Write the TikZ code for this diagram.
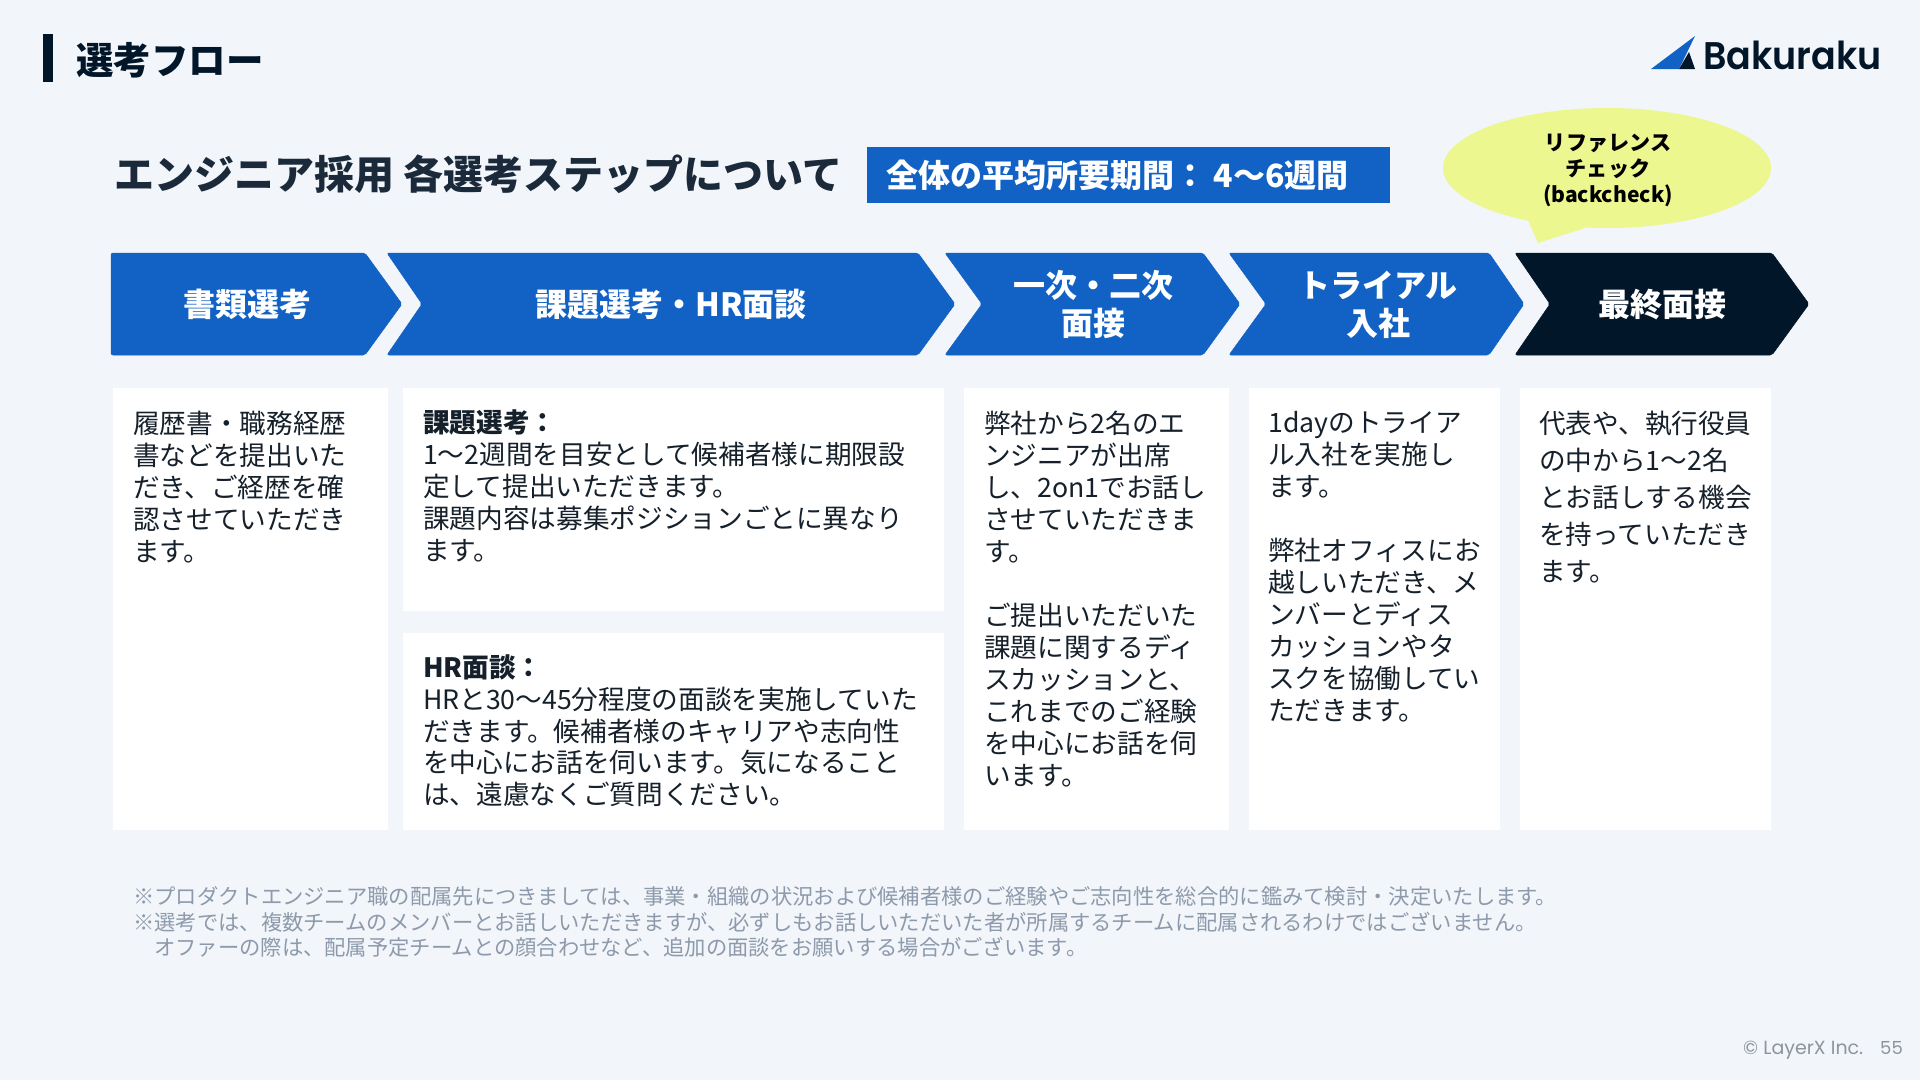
\documentclass[tikz,border=0pt]{standalone}
\usepackage{fontspec}
\setmainfont{Noto Sans CJK JP}
\newfontfamily\popfont{Poppins}
\newfontfamily\logofont{Poppins SemiBold}
\definecolor{bgc}{HTML}{F2F5FA}
\definecolor{blu}{HTML}{1162C4}
\definecolor{drk}{HTML}{021629}
\definecolor{ttl}{HTML}{1B2A3A}
\definecolor{bod}{HTML}{15202B}
\definecolor{yel}{HTML}{ECF78F}
\definecolor{foot}{HTML}{8D9AAB}
\definecolor{cprt}{HTML}{8E949C}
\tikzset{
  chev/.style={fill=#1,draw=#1,line width=0.5pt,rounded corners=2pt},
  card/.style={fill=white},
  bodytxt/.style={anchor=north west,inner sep=0pt,align=left,text=bod,font=\fontsize{26.65}{32}\selectfont},
  chevtxt/.style={inner sep=0pt,align=center,text=white,font=\fontsize{32}{38}\selectfont\bfseries},
  foottxt/.style={anchor=base west,inner sep=0pt,text=foot,font=\fontsize{21.3}{25}\selectfont},
}
\begin{document}
\begin{tikzpicture}[x=1pt,y=-1pt]
\useasboundingbox (0,0) rectangle (1920,1080);
\fill[bgc] (0,0) rectangle (1920,1080);
% header
\fill[drk] (43,34) rectangle (53,82);
\node[anchor=base west,inner sep=0pt,text=drk,font=\fontsize{37.5}{40}\selectfont\bfseries] (hdr) at (76,74) {選考フロー};
% logo
\fill[blu] (1651,69) -- (1695,36) -- (1679,69) -- cycle;
\fill[drk] (1679,69) -- (1689,52) -- (1695,69) -- cycle;
\node[anchor=base west,inner sep=0pt,text=drk,font=\fontsize{38.5}{40}\logofont\selectfont] (logo) at (1703,69) {\scalebox{0.947}[1]{Bakuraku}};
% title
\node[anchor=base west,inner sep=0pt,text=ttl,font=\fontsize{40}{44}\selectfont\bfseries] (title) at (114,189) {エンジニア採用 各選考ステップについて};
\fill[blu] (867,147) rectangle (1390,203);
\node[anchor=base west,inner sep=0pt,text=white,font=\fontsize{32}{36}\selectfont\bfseries] (avg) at (886,187) {全体の平均所要期間： 4〜6週間};
% bubble
\fill[yel] (1607,168) ellipse [x radius=164,y radius=60];
\fill[yel] (1528,220) -- (1538,243) -- (1585,228) -- cycle;
\node[inner sep=0pt,align=center,text=black,font=\fontsize{21.1}{26}\selectfont\bfseries] (bub) at (1608,170.5) {リファレンス\\チェック\\(backcheck)};
% chevrons
\draw[chev=blu] (111,253) -- (365,253) -- (402,304) -- (365,355) -- (111,355) -- cycle;
\draw[chev=blu] (387,253) -- (918,253) -- (955,304) -- (918,355) -- (387,355) -- (422,304) -- cycle;
\draw[chev=blu] (945,253) -- (1203,253) -- (1240,304) -- (1203,355) -- (945,355) -- (982,304) -- cycle;
\draw[chev=blu] (1229,253) -- (1489,253) -- (1524,304) -- (1489,355) -- (1229,355) -- (1266,304) -- cycle;
\draw[chev=drk] (1515,253) -- (1772,253) -- (1809,304) -- (1772,355) -- (1515,355) -- (1550,304) -- cycle;
\node[chevtxt] (c1) at (247,304.5) {書類選考};
\node[chevtxt] (c2) at (671,304.5) {課題選考・HR面談};
\node[chevtxt] (c3) at (1093,304.5) {一次・二次\\面接};
\node[chevtxt] (c4) at (1378,304.5) {トライアル\\入社};
\node[chevtxt] (c5) at (1662,304.5) {最終面接};
% cards
\fill[card] (113,388) rectangle (388,830);
\fill[card] (403,388) rectangle (944,611);
\fill[card] (403,633) rectangle (944,830);
\fill[card] (964,388) rectangle (1229,830);
\fill[card] (1249,388) rectangle (1500,830);
\fill[card] (1520,388) rectangle (1771,830);
% card texts
\node[bodytxt] (t1) at (133,410.5) {履歴書・職務経歴\\書などを提出いた\\だき、ご経歴を確\\認させていただき\\ます。};
\node[bodytxt] (t2) at (423,410) {\textbf{課題選考：}\\1〜2週間を目安として候補者様に期限設\\定して提出いただきます。\\課題内容は募集ポジションごとに異なり\\ます。};
\node[bodytxt,font=\fontsize{26.65}{31.7}\selectfont] (t2b) at (423,654.8) {\textbf{HR面談：}\\HRと30〜45分程度の面談を実施していた\\だきます。候補者様のキャリアや志向性\\を中心にお話を伺います。気になること\\は、遠慮なくご質問ください。};
\node[bodytxt] (t3) at (984,410.5) {弊社から2名のエ\\ンジニアが出席\\し、2on1でお話し\\させていただきま\\す。\\\mbox{}\\ご提出いただいた\\課題に関するディ\\スカッションと、\\これまでのご経験\\を中心にお話を伺\\います。};
\node[bodytxt] (t4) at (1268,411) {1dayのトライア\\ル入社を実施し\\ます。\\\mbox{}\\弊社オフィスにお\\越しいただき、メ\\ンバーとディス\\カッションやタ\\スクを協働してい\\ただきます。};
\node[bodytxt,font=\fontsize{26.65}{37}\selectfont] (t5) at (1539,411) {代表や、執行役員\\の中から1〜2名\\とお話しする機会\\を持っていただき\\ます。};
% footnotes
\node[foottxt] (f1) at (133,904) {※プロダクトエンジニア職の配属先につきましては、事業・組織の状況および候補者様のご経験やご志向性を総合的に鑑みて検討・決定いたします。};
\node[foottxt] (f2) at (133,930) {※選考では、複数チームのメンバーとお話しいただきますが、必ずしもお話しいただいた者が所属するチームに配属されるわけではございません。};
\node[foottxt] (f3) at (154,955.5) {オファーの際は、配属予定チームとの顔合わせなど、追加の面談をお願いする場合がございます。};
% footer
\node[anchor=base west,inner sep=0pt,text=cprt,font=\fontsize{19}{20}\popfont\selectfont] (cp) at (1743,1054) {© LayerX Inc.};
\node[anchor=base west,inner sep=0pt,text=cprt,font=\fontsize{18}{20}\popfont\selectfont] (pg) at (1880,1054) {55};
\end{tikzpicture}
\end{document}
